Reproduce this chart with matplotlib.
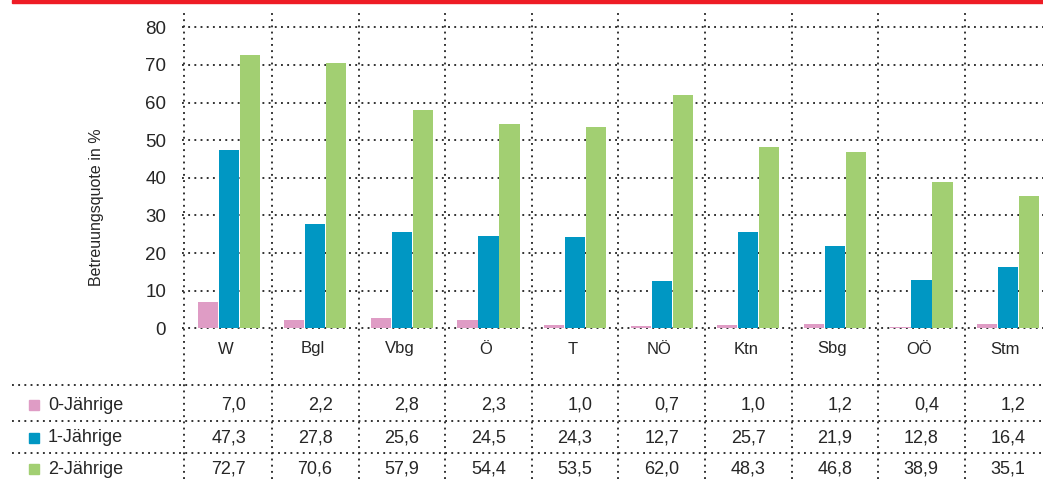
import matplotlib
matplotlib.use("Agg")
import matplotlib.pyplot as plt
from matplotlib.lines import Line2D
from matplotlib.patches import Rectangle
from matplotlib.transforms import blended_transform_factory
import numpy as np

plt.rcParams['font.family'] = ['Liberation Sans', 'DejaVu Sans']

categories = ["W", "Bgl", "Vbg", "Ö", "T", "NÖ", "Ktn", "Sbg", "OÖ", "Stm"]
series_names = ["0-Jährige", "1-Jährige", "2-Jährige"]
vals_0 = [7.0, 2.2, 2.8, 2.3, 1.0, 0.7, 1.0, 1.2, 0.4, 1.2]
vals_1 = [47.3, 27.8, 25.6, 24.5, 24.3, 12.7, 25.7, 21.9, 12.8, 16.4]
vals_2 = [72.7, 70.6, 57.9, 54.4, 53.5, 62.0, 48.3, 46.8, 38.9, 35.1]
yticks = [0, 10, 20, 30, 40, 50, 60, 70, 80]
ylabel = "Betreuungsquote in %"

colors = ["#DF9CC5", "#0097C3", "#A2CF72"]
text_color = "#262626"
grid_color = "#2a2a2a"

W, H = 1043, 479
fig = plt.figure(figsize=(W / 100, H / 100), dpi=100)

def fx(px):
    return px / W

def fy(py):
    return 1 - py / H

# main axes: pixel x 182 -> 1043, y 12 -> 479
ax = fig.add_axes([fx(182), fy(479), fx(1043) - fx(182), fy(12) - fy(479)])
px_per_unit = 3.7625
zero_px = 328.3
ax.set_ylim(-(479 - zero_px) / px_per_unit, (zero_px - 12) / px_per_unit)
grp = 86.6
ax.set_xlim(-0.5 - (185.4 - 182) / grp, -0.5 + (1043 - 185.4) / grp)

for s in ax.spines.values():
    s.set_visible(False)

dot = dict(color=grid_color, linestyle=(0, (1, 2.3)), linewidth=1.35)

# grid
for t in yticks:
    ax.axhline(t, zorder=1, **dot)
ax.axvline(ax.get_xlim()[0] + 0.02, zorder=1, **dot)
for k in range(len(categories) - 1):
    ax.axvline(k + 0.5, zorder=1, **dot)

x = np.arange(len(categories))
bw = 0.232
off = 0.243
for i, vals in enumerate([vals_0, vals_1, vals_2]):
    ax.bar(x + (i - 1) * off, vals, width=bw, color=colors[i], zorder=3,
           linewidth=0)

ax.set_yticks(yticks)
ax.set_yticklabels([str(t) for t in yticks], fontsize=13.5, color=text_color)
ax.tick_params(axis='y', length=0, pad=11.5)
ax.set_xticks([])

fig.text(fx(96), fy(207), ylabel, rotation=90, ha='center', va='center',
         fontsize=11.5, color=text_color)

# red top bar
fig.patches.append(Rectangle((fx(12), fy(3)), 1 - fx(12), fy(0) - fy(3),
                             transform=fig.transFigure, color="#EE1C25",
                             zorder=5))

trans = blended_transform_factory(ax.transData, fig.transFigure)

# category labels
for k, c in enumerate(categories):
    ax.text(k - 0.03, fy(349), c, transform=trans, ha='center', va='center',
            fontsize=12, color=text_color)

# table lines
for py in [385, 421, 453]:
    fig.lines.append(Line2D([fx(12), 1], [fy(py), fy(py)],
                            transform=fig.transFigure, **dot))

row_y = [405, 438, 469]
for i, vals in enumerate([vals_0, vals_1, vals_2]):
    fig.patches.append(Rectangle((fx(29), fy(row_y[i] + 5)), fx(10), 10 / H,
                                 transform=fig.transFigure, color=colors[i]))
    fig.text(fx(48), fy(row_y[i]), series_names[i], ha='left', va='center',
             fontsize=13, color=text_color)
    for k, v in enumerate(vals):
        ax.text(k + 0.2, fy(row_y[i]), f"{v:.1f}".replace('.', ','),
                transform=trans, ha='right', va='center', fontsize=13,
                color=text_color)

fig.savefig("out.png", dpi=100)
